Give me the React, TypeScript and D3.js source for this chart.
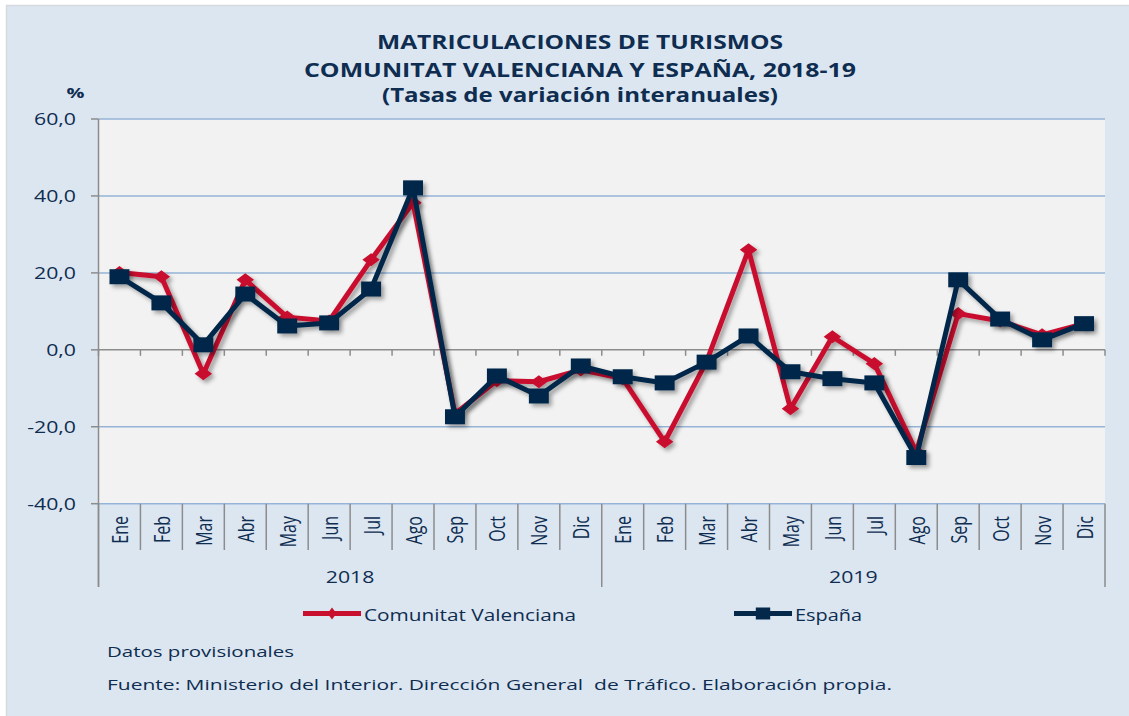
import React, { useRef, useEffect } from "react";
import * as d3 from "d3";

const months = ["Ene", "Feb", "Mar", "Abr", "May", "Jun", "Jul", "Ago", "Sep", "Oct", "Nov", "Dic"];
const years = ["2018", "2019"];
const yTicks = [60, 40, 20, 0, -20, -40];

const valenciana = [
  20.1, 19.0, -6.2, 18.2, 8.5, 7.5, 23.4, 38.2, -16.6, -8.0, -8.3, -5.2,
  -7.5, -23.9, -3.0, 26.0, -15.3, 3.4, -3.6, -26.5, 9.4, 7.5, 3.9, 6.8,
];
const espana = [
  19.0, 12.2, 1.3, 14.5, 6.2, 7.0, 15.8, 42.1, -17.4, -6.8, -12.0, -4.2,
  -7.0, -8.6, -3.2, 3.6, -5.7, -7.5, -8.6, -28.0, 18.2, 8.0, 2.6, 6.8,
];

const titleLines = [
  "MATRICULACIONES DE TURISMOS",
  "COMUNITAT VALENCIANA Y ESPAÑA, 2018-19",
  "(Tasas de variación interanuales)",
];
const notes = [
  "Datos provisionales",
  "Fuente: Ministerio del Interior. Dirección General  de Tráfico. Elaboración propia.",
];

const RED = "#c8102e";
const NAVY = "#03284a";
const TXT = "#0e2d50";
const GRAY = "#8c8c8c";
const FONT = "'Open Sans', 'Liberation Sans', sans-serif";
const K = 1.33; // the whole picture is a bit wider than tall

const App = () => {
  const ref = useRef<SVGSVGElement>(null);

  useEffect(() => {
    const svg = d3.select(ref.current);
    svg.selectAll("*").remove();

    const left = 98.5;
    const right = 1105;
    const top = 119;
    const bottom = 503.7;

    const cats = years.flatMap((y) => months.map((m) => ({ y, m })));
    const x = d3
      .scaleBand<number>()
      .domain(d3.range(cats.length))
      .range([left, right]);
    const y = d3.scaleLinear().domain([-40, 60]).range([bottom, top]);
    const cx = (i: number) => (x(i) as number) + x.bandwidth() / 2;
    const edge = (i: number) => left + i * x.step();

    const f = svg
      .append("defs")
      .append("filter")
      .attr("id", "shadow")
      .attr("x", "-10%")
      .attr("y", "-10%")
      .attr("width", "130%")
      .attr("height", "130%");
    f.append("feDropShadow")
      .attr("dx", 3)
      .attr("dy", 3)
      .attr("stdDeviation", 2)
      .attr("flood-color", "#000")
      .attr("flood-opacity", 0.35);

    // panel
    svg.append("rect").attr("width", 1129).attr("height", 716).attr("fill", "#fff");
    svg
      .append("rect")
      .attr("x", 6.5)
      .attr("y", 5.5)
      .attr("width", 1130)
      .attr("height", 720)
      .attr("fill", "#dce6f1")
      .attr("stroke", "#d6d9dd")
      .attr("stroke-width", 1.5);

    svg
      .append("rect")
      .attr("x", left)
      .attr("y", top)
      .attr("width", right - left)
      .attr("height", bottom - top)
      .attr("fill", "#f2f2f2");

    // gridlines
    svg
      .append("g")
      .selectAll("line")
      .data(yTicks.filter((t) => t !== 0))
      .join("line")
      .attr("x1", left)
      .attr("x2", right)
      .attr("y1", (d) => y(d))
      .attr("y2", (d) => y(d))
      .attr("stroke", "#95b3d7")
      .attr("stroke-width", 1.5);

    // zero line + ticks
    svg
      .append("line")
      .attr("x1", left)
      .attr("x2", right)
      .attr("y1", y(0))
      .attr("y2", y(0))
      .attr("stroke", GRAY)
      .attr("stroke-width", 1.5);
    svg
      .append("g")
      .selectAll("line")
      .data(d3.range(cats.length + 1))
      .join("line")
      .attr("x1", edge)
      .attr("x2", edge)
      .attr("y1", y(0))
      .attr("y2", y(0) + 6)
      .attr("stroke", GRAY)
      .attr("stroke-width", 1.5);

    // category separators
    svg
      .append("g")
      .selectAll("line")
      .data(d3.range(cats.length + 1))
      .join("line")
      .attr("x1", edge)
      .attr("x2", edge)
      .attr("y1", bottom)
      .attr("y2", (i) => (i % 12 === 0 ? 587 : 550))
      .attr("stroke", GRAY)
      .attr("stroke-width", 1.5);

    // y axis
    svg
      .append("line")
      .attr("x1", left)
      .attr("x2", left)
      .attr("y1", top)
      .attr("y2", 587)
      .attr("stroke", GRAY)
      .attr("stroke-width", 1.5);
    const yg = svg.append("g");
    yg.selectAll("line")
      .data(yTicks)
      .join("line")
      .attr("x1", left - 7.5)
      .attr("x2", left)
      .attr("y1", (d) => y(d))
      .attr("y2", (d) => y(d))
      .attr("stroke", GRAY)
      .attr("stroke-width", 1.5);
    yg.selectAll("text")
      .data(yTicks)
      .join("text")
      .attr("transform", (d) => `translate(76,${y(d) + 6}) scale(${K},1)`)
      .attr("text-anchor", "end")
      .attr("font-family", FONT)
      .attr("font-size", 16)
      .attr("fill", TXT)
      .text((d) => d3.format(".1f")(d).replace(".", ",").replace("\u2212", "-"));

    svg
      .append("text")
      .attr("transform", `translate(75.5,98) scale(${K},1)`)
      .attr("text-anchor", "middle")
      .attr("font-family", FONT)
      .attr("font-weight", "bold")
      .attr("font-size", 15)
      .attr("fill", TXT)
      .text("%");

    // month labels (rotated)
    svg
      .append("g")
      .selectAll("text")
      .data(cats)
      .join("text")
      .attr("transform", (_, i) => `translate(${cx(i) + 8.5},516) scale(${K},1) rotate(-90)`)
      .attr("text-anchor", "end")
      .attr("font-family", FONT)
      .attr("font-size", 16)
      .attr("fill", TXT)
      .text((d) => d.m);

    // year labels
    svg
      .append("g")
      .selectAll("text")
      .data(years)
      .join("text")
      .attr("transform", (_, i) => `translate(${(edge(i * 12) + edge(i * 12 + 12)) / 2},583) scale(${K},1)`)
      .attr("text-anchor", "middle")
      .attr("font-family", FONT)
      .attr("font-size", 16)
      .attr("fill", TXT)
      .text((d) => d);

    // series
    const line = d3
      .line<number>()
      .x((_, i) => cx(i))
      .y((d) => y(d));
    const series = [
      { values: valenciana, color: RED, sym: d3.symbol().type(d3.symbolDiamond2).size(110) },
      { values: espana, color: NAVY, sym: d3.symbol().type(d3.symbolSquare).size(225) },
    ];
    series.forEach((s) => {
      const g = svg.append("g").attr("filter", "url(#shadow)");
      g.append("path")
        .attr("d", line(s.values))
        .attr("fill", "none")
        .attr("stroke", s.color)
        .attr("stroke-width", 5)
        .attr("stroke-linejoin", "round");
      g.selectAll("path.m")
        .data(s.values)
        .join("path")
        .attr("class", "m")
        .attr("transform", (d, i) => `translate(${cx(i)},${y(d)}) scale(${K},1)`)
        .attr("d", s.sym())
        .attr("fill", s.color);
    });

    // legend
    const legend = [
      { label: "Comunitat Valenciana", color: RED, sym: d3.symbol().type(d3.symbolDiamond2).size(92), sx: 0.75, x: 303, w: 212 },
      { label: "España", color: NAVY, sym: d3.symbol().type(d3.symbolSquare).size(144), sx: 1.2, x: 734, w: 67 },
    ];
    const lg = svg.append("g");
    legend.forEach((l) => {
      lg.append("line")
        .attr("x1", l.x)
        .attr("x2", l.x + 58)
        .attr("y1", 613.5)
        .attr("y2", 613.5)
        .attr("stroke", l.color)
        .attr("stroke-width", 5);
      lg.append("path")
        .attr("transform", `translate(${l.x + 29},613.5) scale(${l.sx},1)`)
        .attr("d", l.sym())
        .attr("fill", l.color);
      lg.append("text")
        .attr("x", l.x + 61)
        .attr("y", 620.5)
        .attr("font-family", FONT)
        .attr("font-size", 17)
        .attr("fill", TXT)
        .attr("textLength", l.w)
        .attr("lengthAdjust", "spacingAndGlyphs")
        .text(l.label);
    });

    // notes
    const noteW = [187, 785];
    svg
      .append("g")
      .selectAll("text")
      .data(notes)
      .join("text")
      .attr("x", 107)
      .attr("y", (_, i) => 657 + i * 33)
      .attr("font-family", FONT)
      .attr("font-size", 15)
      .attr("fill", TXT)
      .attr("textLength", (_, i) => noteW[i])
      .attr("lengthAdjust", "spacingAndGlyphs")
      .style("white-space", "pre")
      .text((d) => d);

    // title
    const titleW = [406, 552, 396];
    const titleY = [49, 77, 102];
    svg
      .append("g")
      .selectAll("text")
      .data(titleLines)
      .join("text")
      .attr("x", 580)
      .attr("y", (_, i) => titleY[i])
      .attr("text-anchor", "middle")
      .attr("font-family", FONT)
      .attr("font-weight", "bold")
      .attr("font-size", 20)
      .attr("fill", TXT)
      .attr("textLength", (_, i) => titleW[i])
      .attr("lengthAdjust", "spacingAndGlyphs")
      .text((d) => d);
  }, []);

  return (
    <svg
      ref={ref}
      width={1129}
      height={716}
      style={{ position: "absolute", left: 0, top: 0 }}
    />
  );
};

export default App;
